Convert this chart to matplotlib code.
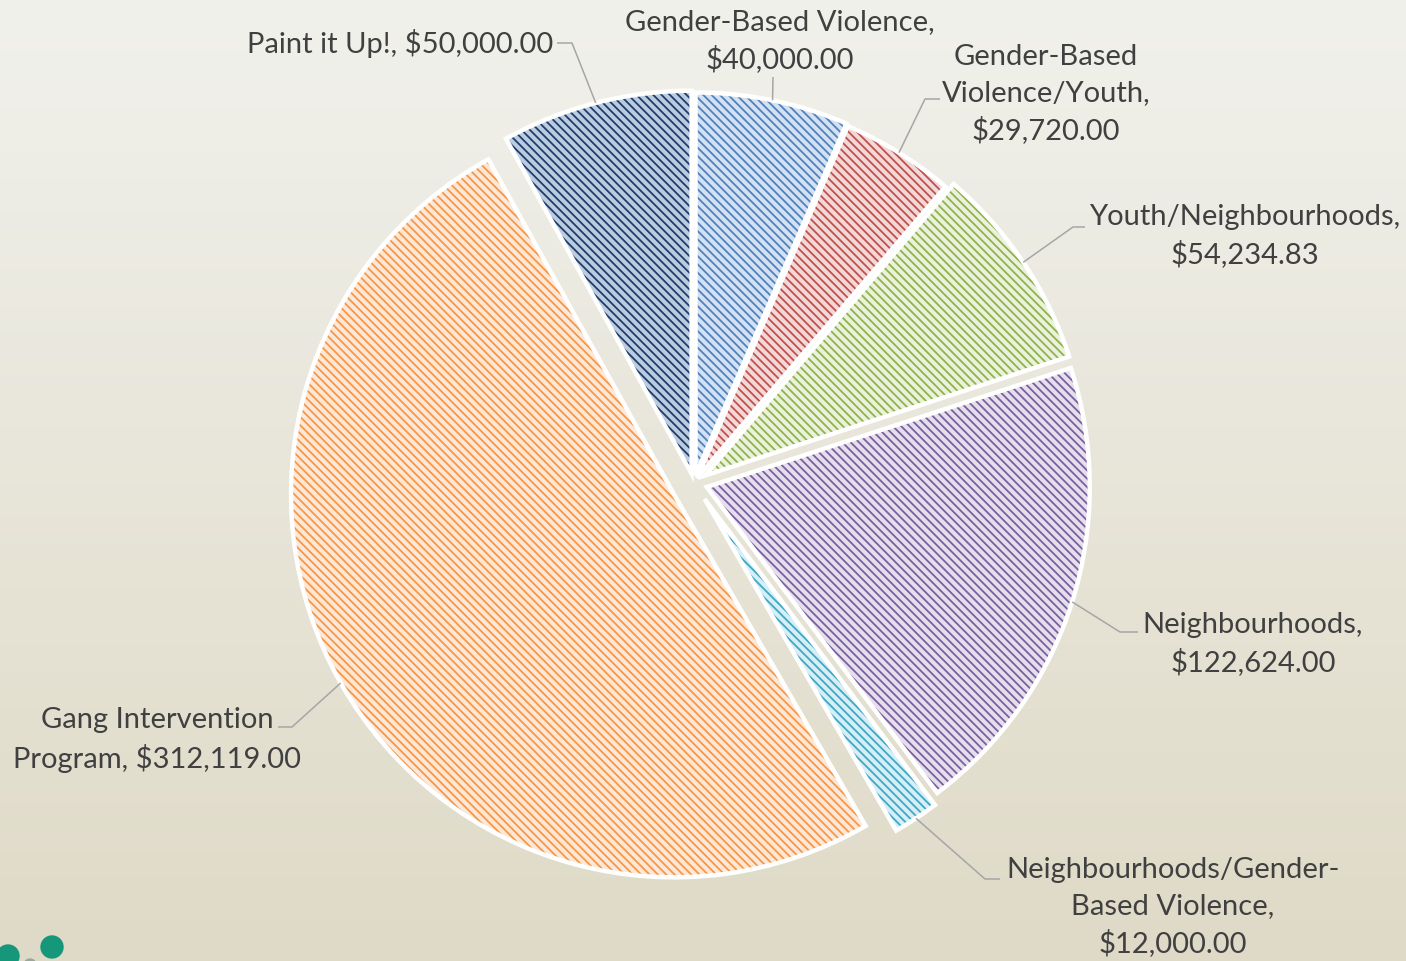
import matplotlib
matplotlib.use("Agg")
import matplotlib.pyplot as plt
import numpy as np
from matplotlib.patches import Circle

plt.rcParams['font.family'] = ['Lato', 'DejaVu Sans']
plt.rcParams['hatch.linewidth'] = 1.3

# ---- data ----
categories = ["Gender-Based Violence", "Gender-Based Violence/Youth", "Youth/Neighbourhoods",
              "Neighbourhoods", "Neighbourhoods/Gender-Based Violence",
              "Gang Intervention Program", "Paint it Up!"]
values = [40000.00, 29720.00, 54234.83, 122624.00, 12000.00, 312119.00, 50000.00]
label_texts = ["Gender-Based Violence,\n$40,000.00",
               "Gender-Based\nViolence/Youth,\n$29,720.00",
               "Youth/Neighbourhoods,\n$54,234.83",
               "Neighbourhoods,\n$122,624.00",
               "Neighbourhoods/Gender-\nBased Violence,\n$12,000.00",
               "Gang Intervention\nProgram, $312,119.00",
               "Paint it Up!, $50,000.00"]

# ---- style ----
hatch_colors = ["#4f81bd", "#c0504d", "#8fb34a", "#7a5ea0", "#3fa8c4", "#f79646", "#1f3d6b"]
face_colors = ["#d4e1f3", "#f2d9d8", "#eaf1dc", "#e5dfec", "#d6eef5", "#fde8d8", "#bccce0"]
explode_frac = [0.02, 0.015, 0.035, 0.035, 0.05, 0.06, 0.025]

W, H = 1406, 962
fig = plt.figure(figsize=(W / 100, H / 100), dpi=100)

# background gradient
bg = fig.add_axes([0, 0, 1, 1], zorder=0)
grad = np.linspace(0, 1, 256).reshape(-1, 1)
top = np.array([0.945, 0.945, 0.925])
bot = np.array([0.875, 0.855, 0.78])
img = top[None, None, :] * (1 - grad[:, :, None]) + bot[None, None, :] * grad[:, :, None]
bg.imshow(img, aspect='auto', extent=[0, 1, 0, 1], origin='upper')
bg.set_xlim(0, 1); bg.set_ylim(0, 1)
bg.axis('off')

ax = fig.add_axes([0, 0, 1, 1], zorder=1)
ax.patch.set_alpha(0)

cx, cy, R = 694, H - 484, 383
explode = [e * R for e in explode_frac]

wedges, _ = ax.pie(values, explode=explode, startangle=90, counterclock=False,
                   center=(cx, cy), radius=R, frame=True,
                   wedgeprops=dict(linewidth=0))
for w, fc, hc in zip(wedges, face_colors, hatch_colors):
    w.set_facecolor(fc)
    w.set_edgecolor(hc)
    w.set_hatch('\\\\\\\\')
    w.set_linewidth(0)

# white outlines
wedges2, _ = ax.pie(values, explode=explode, startangle=90, counterclock=False,
                    center=(cx, cy), radius=R, frame=True,
                    wedgeprops=dict(fill=False, edgecolor='white', linewidth=3.2))

# label layout: (text x, text y(px from top), ha), elbow points
label_pos = [(780, 41, 'center'), (1046, 94, 'center'), (1245, 236, 'center'),
             (1253, 644, 'center'), (1173, 907, 'center'), (157, 740, 'center'),
             (553, 44, 'right')]
elbow = [(773, 78), (940, 100), (1085, 228), (1138, 633), (1000, 880), (278, 728), (557, 44)]
elbow2 = [(773, 78), (925, 100), (1073, 228), (1120, 633), (985, 880), (292, 728), (572, 44)]

for w, txt, (tx, ty, ha), e1, e2 in zip(wedges, label_texts, label_pos, elbow, elbow2):
    ang = np.deg2rad((w.theta1 + w.theta2) / 2)
    wx, wy = w.center
    px = wx + w.r * np.cos(ang)
    py = wy + w.r * np.sin(ang)
    ax.plot([e1[0], e2[0], px], [H - e1[1], H - e2[1], py], color='#a6a6a6', lw=1.1,
            solid_capstyle='butt', zorder=3)
    ax.text(tx, H - ty, txt, ha=ha, va='center', fontsize=21, color='#404040',
            linespacing=1.45, zorder=4)

# decorative dots
for (x, y, r, c) in [(52, 948, 11, '#16977a'), (8, 957, 11, '#16977a'), (30, 966, 6, '#9aa79a')]:
    ax.add_patch(Circle((x, H - y), r, color=c, zorder=2))

ax.set_xlim(0, W)
ax.set_ylim(0, H)
ax.axis('off')

fig.savefig("out.png", dpi=100)
